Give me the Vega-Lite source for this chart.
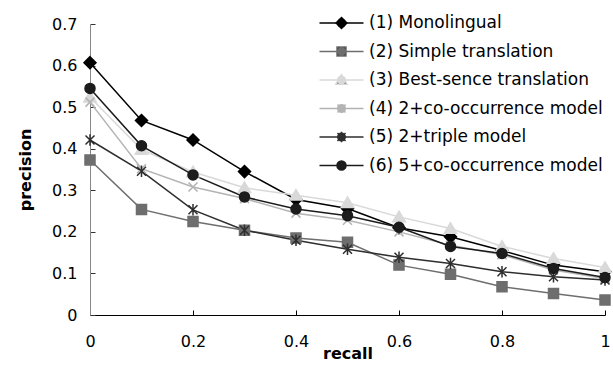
{
  "$schema": "https://vega.github.io/schema/vega-lite/v6.json",
  "width": 515,
  "height": 291,
  "autosize": "none",
  "padding": {"left": 90, "top": 24, "right": 8, "bottom": 53},
  "background": "white",
  "config": {
    "view": {"stroke": null},
    "font": "DejaVu Sans",
    "axis": {"grid": false, "labelFont": "DejaVu Sans", "labelFontSize": 16, "labelColor": "#000", "titleFont": "DejaVu Sans", "titleFontSize": 16, "titleFontWeight": "bold", "titleColor": "#000", "labelFlush": false},
    "legend": {"labelFont": "DejaVu Sans", "labelFontSize": 17, "labelColor": "#000", "labelLimit": 400, "rowPadding": 10.5, "padding": 0}
  },
  "resolve": {"scale": {"color": "independent"}, "legend": {"color": "independent"}},
  "data": {
    "values": [
      {"recall": 0.0, "series": "(1) Monolingual", "precision": 0.607},
      {"recall": 0.1, "series": "(1) Monolingual", "precision": 0.468},
      {"recall": 0.2, "series": "(1) Monolingual", "precision": 0.421},
      {"recall": 0.3, "series": "(1) Monolingual", "precision": 0.345},
      {"recall": 0.4, "series": "(1) Monolingual", "precision": 0.278},
      {"recall": 0.5, "series": "(1) Monolingual", "precision": 0.256},
      {"recall": 0.6, "series": "(1) Monolingual", "precision": 0.210},
      {"recall": 0.7, "series": "(1) Monolingual", "precision": 0.188},
      {"recall": 0.8, "series": "(1) Monolingual", "precision": 0.155},
      {"recall": 0.9, "series": "(1) Monolingual", "precision": 0.120},
      {"recall": 1.0, "series": "(1) Monolingual", "precision": 0.104},
      {"recall": 0.0, "series": "(2) Simple translation", "precision": 0.373},
      {"recall": 0.1, "series": "(2) Simple translation", "precision": 0.254},
      {"recall": 0.2, "series": "(2) Simple translation", "precision": 0.225},
      {"recall": 0.3, "series": "(2) Simple translation", "precision": 0.204},
      {"recall": 0.4, "series": "(2) Simple translation", "precision": 0.185},
      {"recall": 0.5, "series": "(2) Simple translation", "precision": 0.175},
      {"recall": 0.6, "series": "(2) Simple translation", "precision": 0.120},
      {"recall": 0.7, "series": "(2) Simple translation", "precision": 0.098},
      {"recall": 0.8, "series": "(2) Simple translation", "precision": 0.068},
      {"recall": 0.9, "series": "(2) Simple translation", "precision": 0.052},
      {"recall": 1.0, "series": "(2) Simple translation", "precision": 0.036},
      {"recall": 0.0, "series": "(3) Best-sence translation", "precision": 0.524},
      {"recall": 0.1, "series": "(3) Best-sence translation", "precision": 0.398},
      {"recall": 0.2, "series": "(3) Best-sence translation", "precision": 0.344},
      {"recall": 0.3, "series": "(3) Best-sence translation", "precision": 0.306},
      {"recall": 0.4, "series": "(3) Best-sence translation", "precision": 0.288},
      {"recall": 0.5, "series": "(3) Best-sence translation", "precision": 0.270},
      {"recall": 0.6, "series": "(3) Best-sence translation", "precision": 0.236},
      {"recall": 0.7, "series": "(3) Best-sence translation", "precision": 0.208},
      {"recall": 0.8, "series": "(3) Best-sence translation", "precision": 0.165},
      {"recall": 0.9, "series": "(3) Best-sence translation", "precision": 0.136},
      {"recall": 1.0, "series": "(3) Best-sence translation", "precision": 0.114},
      {"recall": 0.0, "series": "(4) 2+co-occurrence model", "precision": 0.512},
      {"recall": 0.1, "series": "(4) 2+co-occurrence model", "precision": 0.352},
      {"recall": 0.2, "series": "(4) 2+co-occurrence model", "precision": 0.308},
      {"recall": 0.3, "series": "(4) 2+co-occurrence model", "precision": 0.280},
      {"recall": 0.4, "series": "(4) 2+co-occurrence model", "precision": 0.245},
      {"recall": 0.5, "series": "(4) 2+co-occurrence model", "precision": 0.228},
      {"recall": 0.6, "series": "(4) 2+co-occurrence model", "precision": 0.200},
      {"recall": 0.7, "series": "(4) 2+co-occurrence model", "precision": 0.168},
      {"recall": 0.8, "series": "(4) 2+co-occurrence model", "precision": 0.145},
      {"recall": 0.9, "series": "(4) 2+co-occurrence model", "precision": 0.108},
      {"recall": 1.0, "series": "(4) 2+co-occurrence model", "precision": 0.088},
      {"recall": 0.0, "series": "(5) 2+triple model", "precision": 0.421},
      {"recall": 0.1, "series": "(5) 2+triple model", "precision": 0.346},
      {"recall": 0.2, "series": "(5) 2+triple model", "precision": 0.253},
      {"recall": 0.3, "series": "(5) 2+triple model", "precision": 0.204},
      {"recall": 0.4, "series": "(5) 2+triple model", "precision": 0.180},
      {"recall": 0.5, "series": "(5) 2+triple model", "precision": 0.158},
      {"recall": 0.6, "series": "(5) 2+triple model", "precision": 0.139},
      {"recall": 0.7, "series": "(5) 2+triple model", "precision": 0.124},
      {"recall": 0.8, "series": "(5) 2+triple model", "precision": 0.104},
      {"recall": 0.9, "series": "(5) 2+triple model", "precision": 0.092},
      {"recall": 1.0, "series": "(5) 2+triple model", "precision": 0.084},
      {"recall": 0.0, "series": "(6) 5+co-occurrence model", "precision": 0.545},
      {"recall": 0.1, "series": "(6) 5+co-occurrence model", "precision": 0.407},
      {"recall": 0.2, "series": "(6) 5+co-occurrence model", "precision": 0.337},
      {"recall": 0.3, "series": "(6) 5+co-occurrence model", "precision": 0.284},
      {"recall": 0.4, "series": "(6) 5+co-occurrence model", "precision": 0.255},
      {"recall": 0.5, "series": "(6) 5+co-occurrence model", "precision": 0.239},
      {"recall": 0.6, "series": "(6) 5+co-occurrence model", "precision": 0.211},
      {"recall": 0.7, "series": "(6) 5+co-occurrence model", "precision": 0.165},
      {"recall": 0.8, "series": "(6) 5+co-occurrence model", "precision": 0.148},
      {"recall": 0.9, "series": "(6) 5+co-occurrence model", "precision": 0.112},
      {"recall": 1.0, "series": "(6) 5+co-occurrence model", "precision": 0.090}
    ]
  },
  "encoding": {
    "x": {
      "field": "recall", "type": "quantitative",
      "scale": {"domain": [0, 1], "nice": false},
      "axis": {"title": "recall", "values": [0, 0.2, 0.4, 0.6, 0.8, 1], "format": "~g", "ticks": true, "tickSize": -5, "tickWidth": 1, "tickColor": "#000", "domainColor": "#000", "labelPadding": 23, "titleY": 30, "titleBaseline": "top"}
    },
    "y": {
      "field": "precision", "type": "quantitative",
      "scale": {"domain": [0, 0.7], "nice": false},
      "axis": {"title": "precision", "values": [0, 0.1, 0.2, 0.3, 0.4, 0.5, 0.6, 0.7], "format": "~g", "ticks": true, "tickSize": -5, "tickWidth": 1, "tickColor": "#333", "domainColor": "#888", "labelPadding": 18, "titlePadding": 18}
    }
  },
  "layer": [
    {
      "mark": {"type": "line", "strokeWidth": 1.5},
      "encoding": {
        "color": {"field": "series", "type": "nominal",
          "scale": {"range": ["#000000", "#6e6e6e", "#d9d9d9", "#b3b3b3", "#2e2e2e", "#1c1c1c"]},
          "legend": {
            "title": null,
            "orient": "none",
            "legendX": 243,
            "legendY": -9.5,
            "symbolType": "M-4.4,0H4.4",
            "symbolSize": 100,
            "symbolStrokeWidth": 1.5,
            "labelOffset": 19
          }
        }
      }
    },
    {
      "mark": {"type": "point", "filled": true, "opacity": 1, "size": 100, "strokeWidth": 1.5},
      "encoding": {
        "color": {"field": "series", "type": "nominal",
          "scale": {"range": ["#000000", "#6e6e6e", "#d9d9d9", "#b3b3b3", "#2e2e2e", "#1c1c1c"]},
          "legend": {
            "title": null,
            "orient": "none",
            "legendX": 243,
            "legendY": -9.5,
            "symbolSize": 81,
            "symbolStrokeWidth": 1.5,
            "symbolOpacity": 1,
            "labelOffset": 19,
            "labelOpacity": 0,
            "labelExpr": "' '"
          }
        },
        "stroke": {"field": "series", "type": "nominal",
          "scale": {"range": ["#000000", "#6e6e6e", "#d9d9d9", "#b3b3b3", "#2e2e2e", "#1c1c1c"]},
          "legend": {
            "title": null,
            "orient": "none",
            "legendX": 243,
            "legendY": -9.5,
            "symbolSize": 81,
            "symbolStrokeWidth": 1.5,
            "symbolOpacity": 1,
            "labelOffset": 19,
            "labelOpacity": 0,
            "labelExpr": "' '"
          }
        },
        "shape": {"field": "series", "type": "nominal",
          "scale": {"range": [
            "M0,-1.2L1.2,0L0,1.2L-1.2,0Z",
            "M-1,-1H1V1H-1Z",
            "M0,-1.15L1.25,0.95H-1.25Z",
            "M-0.9,-0.9L0.9,0.9M-0.9,0.9L0.9,-0.9",
            "M-0.9,-0.9L0.9,0.9M-0.9,0.9L0.9,-0.9M0,-1.15V1.15",
            "M-1,0A1,1,0,1,1,1,0A1,1,0,1,1,-1,0Z"
          ]},
          "legend": {
            "title": null,
            "orient": "none",
            "legendX": 243,
            "legendY": -9.5,
            "symbolSize": 81,
            "symbolStrokeWidth": 1.5,
            "symbolOpacity": 1,
            "labelOffset": 19,
            "labelOpacity": 0,
            "labelExpr": "' '"
          }
        }
      }
    }
  ]
}
